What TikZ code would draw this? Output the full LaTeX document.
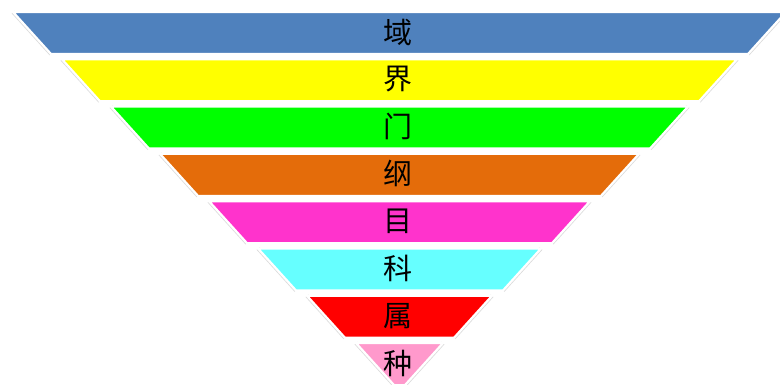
\documentclass[tikz,border=0pt]{standalone}
\usepackage{fontspec}
\newfontfamily\cjk{Noto Sans CJK SC}
\definecolor{cA}{RGB}{79,129,189}
\definecolor{cB}{RGB}{255,255,0}
\definecolor{cC}{RGB}{0,255,0}
\definecolor{cD}{RGB}{228,108,10}
\definecolor{cE}{RGB}{255,51,204}
\definecolor{cF}{RGB}{102,255,255}
\definecolor{cG}{RGB}{255,0,0}
\definecolor{cH}{RGB}{255,153,204}
\tikzset{
  band/.style={fill=#1, draw=white, line width=2.2pt, line join=miter},
  edgeshade/.style={draw=black!14, line width=3.8pt},
  lbl/.style={font=\cjk\fontsize{29}{29}\selectfont, text=black, inner sep=0pt}
}
\begin{document}
\begin{tikzpicture}[x=1pt,y=-1pt]
\useasboundingbox (0,0) rectangle (780,385);
\clip (0,0) rectangle (780,385);
\def\cx{399.5}
\foreach \col/\txt [count=\i from 0] in {cA/域,cB/界,cC/门,cD/纲,cE/目,cF/科,cG/属,cH/种}{
  \pgfmathsetmacro\t{12+47.3*\i}
  \pgfmathsetmacro\b{\t+42}
  \pgfmathsetmacro\h{386.5-49*\i}
  \pgfmathsetmacro\hb{\h-38}
  \draw[edgeshade] (\cx-\h,\t) -- (\cx-\hb,\b);
  \draw[edgeshade] (\cx+\h,\t) -- (\cx+\hb,\b);
  \path[band=\col] (\cx-\h,\t) -- (\cx+\h,\t) -- (\cx+\hb,\b) -- (\cx-\hb,\b) -- cycle;
  \node[lbl] (n\i) at (\cx-2,\t+20) {\txt};
}
\end{tikzpicture}
\end{document}
